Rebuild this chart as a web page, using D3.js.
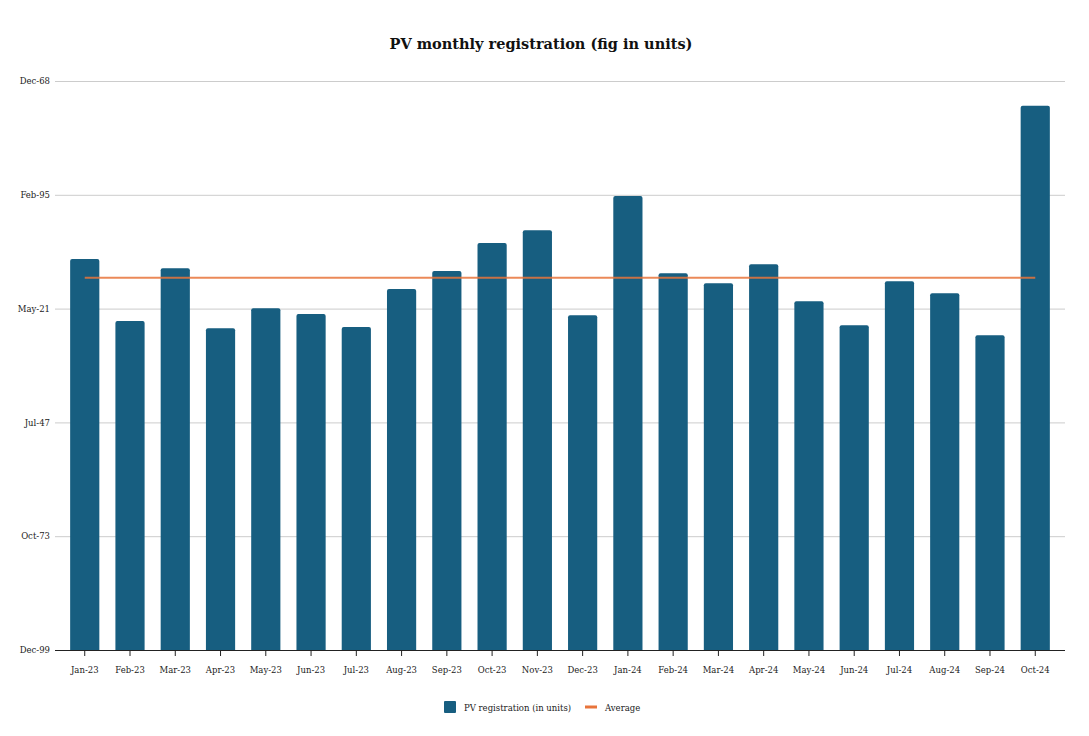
<!DOCTYPE html>
<html>
<head>
<meta charset="utf-8">
<script src="https://cdn.jsdelivr.net/npm/d3@7"></script>
<style>
  body { margin: 0; background: #fff; }
  text { font-family: "DejaVu Serif", "Liberation Serif", serif; fill: #222; }
</style>
</head>
<body>
<div id="plot-container"></div>
<script>
// data
var months = ["Jan-23","Feb-23","Mar-23","Apr-23","May-23","Jun-23","Jul-23","Aug-23","Sep-23","Oct-23","Nov-23","Dec-23",
              "Jan-24","Feb-24","Mar-24","Apr-24","May-24","Jun-24","Jul-24","Aug-24","Sep-24","Oct-24"]
var registrations = [343600, 289100, 335400, 282700, 300300, 295300, 283800, 317200, 333000, 357600, 368800, 294100,
                     398900, 331000, 322200, 338900, 306400, 285300, 324000, 313400, 276500, 478300]
var averageValue = 327000
// the source sheet shows these numbers formatted as dates
var yTicks = [0, 100000, 200000, 300000, 400000, 500000]
var yTickLabels = ["Dec-99", "Oct-73", "Jul-47", "May-21", "Feb-95", "Dec-68"]

var W = 1089, H = 736
// margin convention (window.top is reserved, so prefixed names)
var plotTop = 81, plotBottom = 650
var plotLeft = 62, plotRight = 1058

var xScale = d3.scaleBand().domain(months).range([plotLeft, plotRight]).paddingInner(0.355).paddingOuter(0.18)
var yScale = d3.scaleLinear().domain([0, 500000]).range([plotBottom, plotTop])

var svg = d3.select("#plot-container").append("svg")
  .attr("width", W).attr("height", H)

svg.append("text")
  .attr("x", 541).attr("y", 49)
  .attr("text-anchor", "middle")
  .style("font-size", "14.5px").style("font-weight", "bold")
  .style("fill", "#111")
  .text("PV monthly registration (fig in units)")

// y axis with gridlines
var yAxis = svg.append("g")
  .attr("transform", "translate(55,0)")
  .call(d3.axisLeft(yScale).tickValues(yTicks).tickSize(-1010)
    .tickFormat(function (d, i) { return yTickLabels[i] }))
yAxis.select(".domain").remove()
yAxis.selectAll(".tick line").attr("stroke", "#cccccc")
yAxis.selectAll(".tick text").attr("x", -5).style("font-size", "8.5px")

// bars
svg.selectAll(".bar").data(registrations).enter().append("rect")
  .attr("class", "bar")
  .attr("x", function (d, i) { return xScale(months[i]) })
  .attr("y", function (d) { return yScale(d) })
  .attr("width", xScale.bandwidth())
  .attr("height", function (d) { return plotBottom - yScale(d) + 2 })
  .attr("rx", 2)
  .attr("fill", "#175e80")

// hide rounded bottom corners under the baseline
svg.append("rect").attr("x", plotLeft).attr("y", plotBottom + 0.5)
  .attr("width", plotRight - plotLeft).attr("height", 4).attr("fill", "#fff")

// x axis
var xAxis = svg.append("g")
  .attr("transform", "translate(0," + plotBottom + ")")
  .call(d3.axisBottom(xScale).tickSize(6).tickSizeOuter(0))
xAxis.select(".domain").attr("d", "M55,0.5H1065").attr("stroke", "#222")
xAxis.selectAll(".tick line").attr("stroke", "#222")
xAxis.selectAll(".tick text").attr("dy", "1.6em").style("font-size", "8.5px")

// average line
var avgLine = d3.line()
  .x(function (d) { return xScale(d) + xScale.bandwidth() / 2 })
  .y(function () { return yScale(averageValue) })
svg.append("path")
  .datum([months[0], months[months.length - 1]])
  .attr("d", avgLine)
  .attr("fill", "none")
  .attr("stroke", "#e8743b")
  .attr("stroke-opacity", 0.85)
  .attr("stroke-width", 2)

// legend
var legend = svg.append("g").attr("transform", "translate(0,707)")
legend.append("rect").attr("x", 444).attr("y", -6).attr("width", 12).attr("height", 12).attr("rx", 1).attr("fill", "#175e80")
legend.append("text").attr("x", 464).attr("y", 3.5).style("font-size", "8.5px").text("PV registration (in units)")
legend.append("line").attr("x1", 585).attr("x2", 597).attr("y1", 0).attr("y2", 0)
  .attr("stroke", "#e8743b").attr("stroke-width", 3)
legend.append("text").attr("x", 605).attr("y", 3.5).style("font-size", "8.5px").text("Average")
</script>
</body>
</html>
